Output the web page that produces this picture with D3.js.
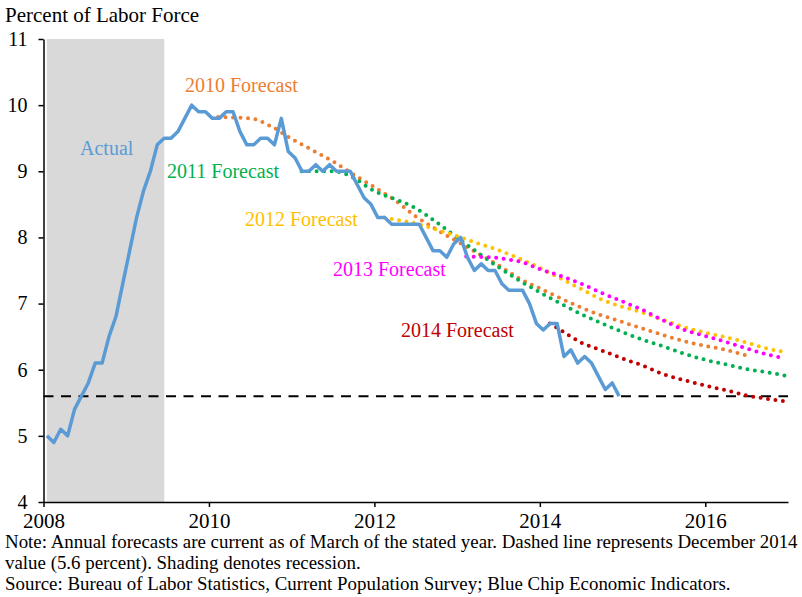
<!DOCTYPE html>
<html lang="en">
<head>
    <meta charset="UTF-8">
    <title>Unemployment forecasts</title>
    <style>
        body { margin: 0; background: #fff; }
        svg text { font-family: "Liberation Serif", "Times New Roman", serif; }
        .axis path, .axis line { stroke: #000; stroke-width: 1.5; }
        .axis text { fill: #000; }
    </style>
</head>
<body>
    <div id="wrapper"></div>

    <script src="https://d3js.org/d3.v7.min.js"></script>
    <script>
        // 實際失業率 (monthly, Jan 2008 - Dec 2014)
        const actualStart = 2008;
        const actual = [
            5.0, 4.9, 5.1, 5.0, 5.4, 5.6, 5.8, 6.1, 6.1, 6.5, 6.8, 7.3,
            7.8, 8.3, 8.7, 9.0, 9.4, 9.5, 9.5, 9.6, 9.8, 10.0, 9.9, 9.9,
            9.8, 9.8, 9.9, 9.9, 9.6, 9.4, 9.4, 9.5, 9.5, 9.4, 9.8, 9.3,
            9.2, 9.0, 9.0, 9.1, 9.0, 9.1, 9.0, 9.0, 9.0, 8.8, 8.6, 8.5,
            8.3, 8.3, 8.2, 8.2, 8.2, 8.2, 8.2, 8.0, 7.8, 7.8, 7.7, 7.9,
            8.0, 7.7, 7.5, 7.6, 7.5, 7.5, 7.3, 7.2, 7.2, 7.2, 7.0, 6.7,
            6.6, 6.7, 6.7, 6.2, 6.3, 6.1, 6.2, 6.1, 5.9, 5.7, 5.8, 5.6
        ];

        // forecasts: [decimal year, percent]
        const fc2010 = [[2010.11, 9.82], [2010.5, 9.80], [2010.75, 9.68], [2011.0, 9.49], [2011.25, 9.32],
            [2011.5, 9.15], [2011.75, 8.95], [2012.0, 8.76], [2012.25, 8.56], [2012.5, 8.32], [2012.75, 8.12],
            [2013.0, 7.94], [2013.25, 7.76], [2013.5, 7.58], [2013.75, 7.38], [2014.0, 7.23], [2014.25, 7.08],
            [2014.5, 6.94], [2014.75, 6.82], [2015.0, 6.72], [2015.25, 6.62], [2015.5, 6.52], [2015.75, 6.43],
            [2016.0, 6.36], [2016.25, 6.30], [2016.53, 6.20]];
        const fc2011 = [[2011.12, 9.00], [2011.5, 9.00], [2011.6, 8.98], [2011.75, 8.90], [2012.0, 8.70],
            [2012.25, 8.58], [2012.5, 8.44], [2012.75, 8.23], [2013.0, 8.00], [2013.25, 7.77], [2013.5, 7.55],
            [2013.75, 7.35], [2014.0, 7.17], [2014.25, 7.00], [2014.5, 6.84], [2014.75, 6.70], [2015.0, 6.57],
            [2015.25, 6.45], [2015.5, 6.35], [2015.75, 6.24], [2016.0, 6.15], [2016.25, 6.08], [2016.5, 6.01],
            [2016.75, 5.96], [2016.97, 5.91]];
        const fc2012 = [[2012.12, 8.30], [2012.25, 8.27], [2012.5, 8.21], [2012.75, 8.12], [2013.0, 8.02],
            [2013.25, 7.91], [2013.5, 7.81], [2013.75, 7.68], [2014.0, 7.54], [2014.25, 7.38], [2014.5, 7.22],
            [2014.75, 7.06], [2015.0, 6.95], [2015.25, 6.86], [2015.5, 6.75], [2015.75, 6.64], [2016.0, 6.56],
            [2016.25, 6.49], [2016.5, 6.41], [2016.75, 6.32], [2016.95, 6.27]];
        const fc2013 = [[2013.11, 7.71], [2013.4, 7.70], [2013.6, 7.67], [2013.8, 7.62], [2014.0, 7.52],
            [2014.25, 7.42], [2014.5, 7.30], [2014.75, 7.16], [2015.0, 7.03], [2015.25, 6.90], [2015.5, 6.74],
            [2015.75, 6.60], [2016.0, 6.51], [2016.25, 6.42], [2016.5, 6.32], [2016.75, 6.23], [2016.97, 6.17]];
        const fc2014 = [[2014.12, 6.70], [2014.25, 6.60], [2014.5, 6.41], [2014.75, 6.29], [2015.0, 6.17],
            [2015.25, 6.06], [2015.5, 5.93], [2015.75, 5.84], [2016.0, 5.76], [2016.25, 5.69], [2016.5, 5.61],
            [2016.75, 5.56], [2016.98, 5.52]];

        const dec2014 = 5.6;
        const recession = [2008.04, 2009.46];
        const xTicks = [2008, 2010, 2012, 2014, 2016];
        const yTicks = [4, 5, 6, 7, 8, 9, 10, 11];

        const forecasts = [
            { label: '2010 Forecast', data: fc2010, color: '#ED7D31', lx: 185, ly: 92 },
            { label: '2011 Forecast', data: fc2011, color: '#00B050', lx: 167, ly: 178 },
            { label: '2012 Forecast', data: fc2012, color: '#FFC000', lx: 245, ly: 226 },
            { label: '2013 Forecast', data: fc2013, color: '#FF00FF', lx: 333, ly: 276 },
            { label: '2014 Forecast', data: fc2014, color: '#C00000', lx: 401, ly: 337 }
        ];

        const svgwidth = 802, svgheight = 597;
        const svg = d3.select('#wrapper').append('svg')
            .attr('width', svgwidth)
            .attr('height', svgheight);

        const xScale = d3.scaleLinear().domain([2008, 2017]).range([43.5, 788]);
        const yScale = d3.scaleLinear().domain([4, 11]).range([502, 39]);

        // 衰退期陰影
        svg.append('rect')
            .attr('x', xScale(recession[0]))
            .attr('y', yScale(11))
            .attr('width', xScale(recession[1]) - xScale(recession[0]))
            .attr('height', yScale(4) - yScale(11))
            .attr('fill', '#D9D9D9');

        // dashed Dec 2014 line
        svg.append('line')
            .attr('x1', xScale(2008)).attr('x2', xScale(2017))
            .attr('y1', yScale(dec2014)).attr('y2', yScale(dec2014))
            .attr('stroke', '#000')
            .attr('stroke-width', 2)
            .style('stroke-dasharray', '10,7.5');

        const fcLine = d3.line()
            .x(d => xScale(d[0]))
            .y(d => yScale(d[1]))
            .curve(d3.curveMonotoneX);

        forecasts.forEach(f => {
            svg.append('path').attr('d', fcLine(f.data))
                .attr('fill', 'none')
                .attr('stroke', f.color)
                .attr('stroke-width', 4)
                .attr('stroke-linecap', 'round')
                .style('stroke-dasharray', '0,7.5');
        });

        const actLine = d3.line()
            .x((d, i) => xScale(actualStart + (i + 0.5) / 12))
            .y(d => yScale(d))
            .curve(d3.curveLinear);

        svg.append('path').attr('d', actLine(actual))
            .attr('fill', 'none')
            .attr('stroke', '#5B9BD5')
            .attr('stroke-width', 3.5)
            .attr('stroke-linejoin', 'round');

        // 軸
        const yAxis = d3.axisLeft(yScale)
            .tickValues(yTicks)
            .tickFormat(d3.format('d'))
            .tickSizeInner(5)
            .tickSizeOuter(0)
            .tickPadding(11);
        svg.append('g').attr('class', 'axis')
            .attr('transform', `translate(${xScale(2008)},0)`)
            .call(yAxis)
            .selectAll('text').style('font-size', '20px');

        const xAxis = d3.axisBottom(xScale)
            .tickValues(xTicks)
            .tickFormat(d3.format('d'))
            .tickSizeInner(5)
            .tickSizeOuter(0)
            .tickPadding(6);
        svg.append('g').attr('class', 'axis')
            .attr('transform', `translate(0,${yScale(4)})`)
            .call(xAxis)
            .selectAll('text').style('font-size', '21px');

        // labels
        svg.append('text').attr('x', 5).attr('y', 22)
            .style('font-size', '21px').text('Percent of Labor Force');

        svg.append('text').attr('x', 80).attr('y', 155)
            .style('font-size', '20px').attr('fill', '#5B9BD5').text('Actual');

        forecasts.forEach(f => {
            svg.append('text').attr('x', f.lx).attr('y', f.ly)
                .style('font-size', '20px').attr('fill', f.color).text(f.label);
        });

        const notes = [
            'Note: Annual forecasts are current as of March of the stated year. Dashed line represents December 2014',
            'value (5.6 percent). Shading denotes recession.',
            'Source: Bureau of Labor Statistics, Current Population Survey; Blue Chip Economic Indicators.'
        ];
        const noteY = [548, 569, 590];
        notes.forEach((t, i) => {
            svg.append('text').attr('x', 5).attr('y', noteY[i])
                .style('font-size', '18.9px').text(t);
        });
    </script>
</body>
</html>
